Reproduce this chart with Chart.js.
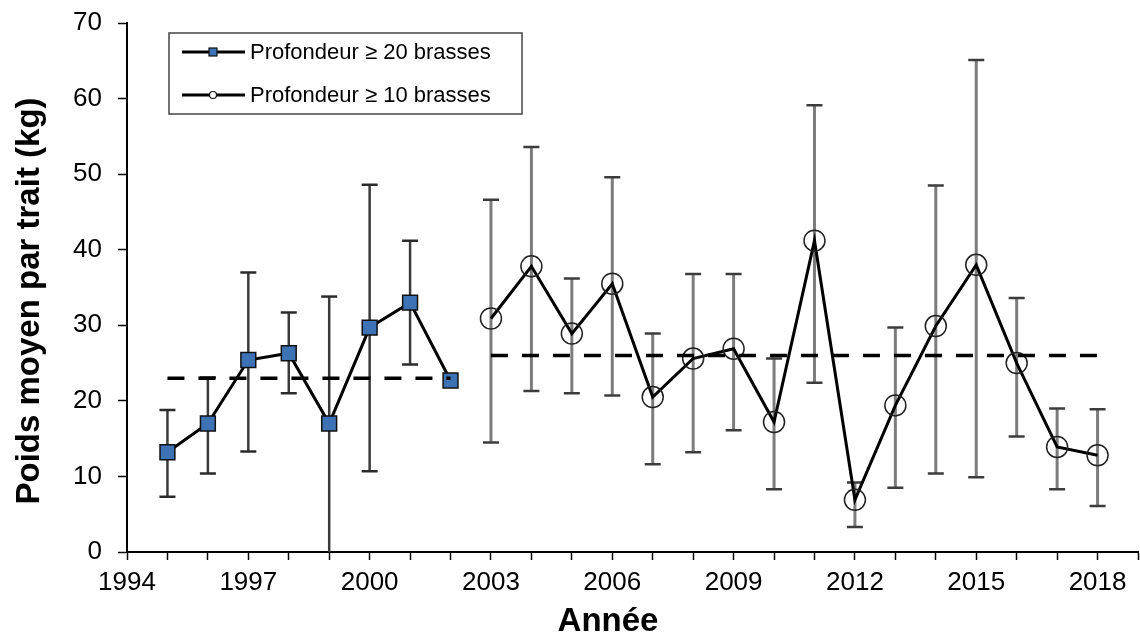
<!DOCTYPE html>
<html>
<head>
<meta charset="utf-8">
<script src="https://cdn.jsdelivr.net/npm/chart.js@4"></script>
<style>
  html, body { margin: 0; padding: 0; background: #fff; overflow: hidden; }
  #wrap { width: 1140px; height: 642px; }
  canvas { display: block; }
</style>
</head>
<body>
<div id="wrap"><canvas id="poidsChart" width="1140" height="642"></canvas></div>
<script>
// Profondeur >= 20 brasses (1995-2002)
const annees20 = [1995, 1996, 1997, 1998, 1999, 2000, 2001, 2002];
const poids20 = [13.2, 17.0, 25.4, 26.3, 17.0, 29.7, 33.0, 22.7];
const bas20 = [7.3, 10.4, 13.3, 21.0, 0, 10.7, 24.8, null];
const haut20 = [18.8, 23.1, 37.0, 31.7, 33.8, 48.6, 41.2, null];
const moyenne20 = 23.0;

// Profondeur >= 10 brasses (2003-2018)
const annees10 = [2003, 2004, 2005, 2006, 2007, 2008, 2009, 2010, 2011, 2012, 2013, 2014, 2015, 2016, 2017, 2018];
const poids10 = [30.9, 37.8, 28.9, 35.5, 20.5, 25.6, 26.9, 17.2, 41.2, 6.9, 19.4, 29.9, 38.0, 25.0, 13.9, 12.8];
const bas10 = [14.5, 21.3, 21.0, 20.7, 11.6, 13.2, 16.1, 8.3, 22.4, 3.3, 8.5, 10.4, 9.9, 15.3, 8.3, 6.1];
const haut10 = [46.6, 53.6, 36.2, 49.6, 28.9, 36.8, 36.8, 25.6, 59.1, 9.2, 29.7, 48.5, 65.1, 33.6, 19.0, 18.9];
const moyenne10 = 26.0;

const labels = ['Profondeur \u2265 20 brasses', 'Profondeur \u2265 10 brasses'];
const xTicks = [1994, 1997, 2000, 2003, 2006, 2009, 2012, 2015, 2018];

const FONT = "'Liberation Sans', Arial, sans-serif";
const bleu = '#3d73b4';

function pts(xs, ys) {
    return xs.map((x, i) => ({ x, y: ys[i] }));
}

// error bars drawn under the lines
const errorBars = {
    id: 'errorBars',
    beforeDatasetsDraw(chart) {
        const ctx = chart.ctx;
        const xs = chart.scales.x, ys = chart.scales.y;
        const groups = [
            { years: annees20, lo: bas20, hi: haut20, stem: '#3a3a3a', cap: '#2a2a2a', w: 2.5 },
            { years: annees10, lo: bas10, hi: haut10, stem: '#7c7c7c', cap: '#3c3c3c', w: 3 }
        ];
        ctx.save();
        groups.forEach(g => {
            g.years.forEach((yr, i) => {
                if (g.lo[i] == null || g.hi[i] == null) return;
                const x = xs.getPixelForValue(yr);
                const y1 = ys.getPixelForValue(g.lo[i]);
                const y2 = ys.getPixelForValue(g.hi[i]);
                ctx.strokeStyle = g.stem;
                ctx.lineWidth = g.w;
                ctx.beginPath();
                ctx.moveTo(x, y1);
                ctx.lineTo(x, y2);
                ctx.stroke();
                ctx.strokeStyle = g.cap;
                ctx.lineWidth = 2.5;
                ctx.beginPath();
                ctx.moveTo(x - 8, y2);
                ctx.lineTo(x + 8, y2);
                if (g.lo[i] > 0) {
                    ctx.moveTo(x - 8, y1);
                    ctx.lineTo(x + 8, y1);
                }
                ctx.stroke();
            });
        });
        ctx.restore();
    }
};

// axis titles and the boxed legend
const decor = {
    id: 'decor',
    afterDraw(chart) {
        const ctx = chart.ctx;
        ctx.save();
        ctx.fillStyle = '#000';
        ctx.font = 'bold 33px ' + FONT;
        ctx.textAlign = 'center';
        ctx.textBaseline = 'middle';
        ctx.fillText('Ann\u00e9e', 608, 622);
        ctx.translate(30, 301);
        ctx.rotate(-Math.PI / 2);
        ctx.fillText('Poids moyen par trait (kg)', 0, 0);
        ctx.restore();

        ctx.save();
        ctx.fillStyle = '#fff';
        ctx.fillRect(169, 33, 353, 81);
        ctx.strokeStyle = '#444';
        ctx.lineWidth = 1.5;
        ctx.strokeRect(169, 33, 353, 81);
        const rows = [52, 95];
        rows.forEach((y, i) => {
            ctx.strokeStyle = '#000';
            ctx.lineWidth = 3;
            ctx.beginPath();
            ctx.moveTo(182, y);
            ctx.lineTo(245, y);
            ctx.stroke();
            ctx.lineWidth = 1.2;
            if (i === 0) {
                ctx.fillStyle = bleu;
                ctx.fillRect(209, y - 4, 8, 8);
                ctx.strokeStyle = '#111';
                ctx.strokeRect(209, y - 4, 8, 8);
            } else {
                ctx.fillStyle = '#fff';
                ctx.beginPath();
                ctx.arc(213, y, 3.5, 0, Math.PI * 2);
                ctx.fill();
                ctx.strokeStyle = '#111';
                ctx.stroke();
            }
            ctx.fillStyle = '#000';
            ctx.font = '22px ' + FONT;
            ctx.textAlign = 'left';
            ctx.textBaseline = 'middle';
            ctx.fillText(labels[i], 250, y + 1);
        });
        ctx.restore();
    }
};

new Chart(document.getElementById('poidsChart'), {
    type: 'line',
    data: {
        datasets: [
            {
                label: 'moyenne 20',
                data: pts([1995, 2002], [moyenne20, moyenne20]),
                borderColor: '#000',
                borderWidth: 3.5,
                borderDash: [17, 14],
                pointRadius: 0
            },
            {
                label: 'moyenne 10',
                data: pts([2003, 2018], [moyenne10, moyenne10]),
                borderColor: '#000',
                borderWidth: 3.5,
                borderDash: [17, 14],
                pointRadius: 0
            },
            {
                label: labels[0],
                data: pts(annees20, poids20),
                borderColor: '#000',
                borderWidth: 3,
                pointStyle: 'rect',
                pointRadius: 10.5,
                pointBackgroundColor: bleu,
                pointBorderColor: '#111',
                pointBorderWidth: 1.5
            },
            {
                label: labels[1],
                data: pts(annees10, poids10),
                borderColor: '#000',
                borderWidth: 3,
                pointStyle: 'circle',
                pointRadius: 10.5,
                pointBackgroundColor: 'rgba(255,255,255,0)',
                pointBorderColor: '#222',
                pointBorderWidth: 1.5
            }
        ]
    },
    options: {
        responsive: false,
        animation: false,
        layout: { autoPadding: false, padding: { top: 23, right: 2, left: 0, bottom: 0 } },
        plugins: {
            legend: { display: false },
            tooltip: { enabled: false }
        },
        scales: {
            x: {
                type: 'linear',
                min: 1994,
                max: 2019,
                afterFit: s => {
                    s.height = 90;
                    s.paddingLeft = 0;
                    s.paddingRight = 0;
                },
                ticks: {
                    stepSize: 1,
                    autoSkip: false,
                    maxRotation: 0,
                    padding: 7,
                    color: '#000',
                    font: { family: FONT, size: 26 },
                    callback: v => xTicks.includes(v) ? String(v) : ''
                },
                grid: { drawOnChartArea: false, tickLength: 8, color: '#000', tickWidth: 1.5 },
                border: { color: '#000', width: 2 }
            },
            y: {
                min: 0,
                max: 70,
                afterFit: s => {
                    s.width = 127;
                    s.paddingTop = 0;
                    s.paddingBottom = 0;
                },
                ticks: {
                    stepSize: 10,
                    padding: 16,
                    color: '#000',
                    font: { family: FONT, size: 26 }
                },
                grid: { drawOnChartArea: false, tickLength: 9, color: '#000', tickWidth: 1.5 },
                border: { color: '#000', width: 2 }
            }
        }
    },
    plugins: [errorBars, decor]
});
</script>
</body>
</html>
